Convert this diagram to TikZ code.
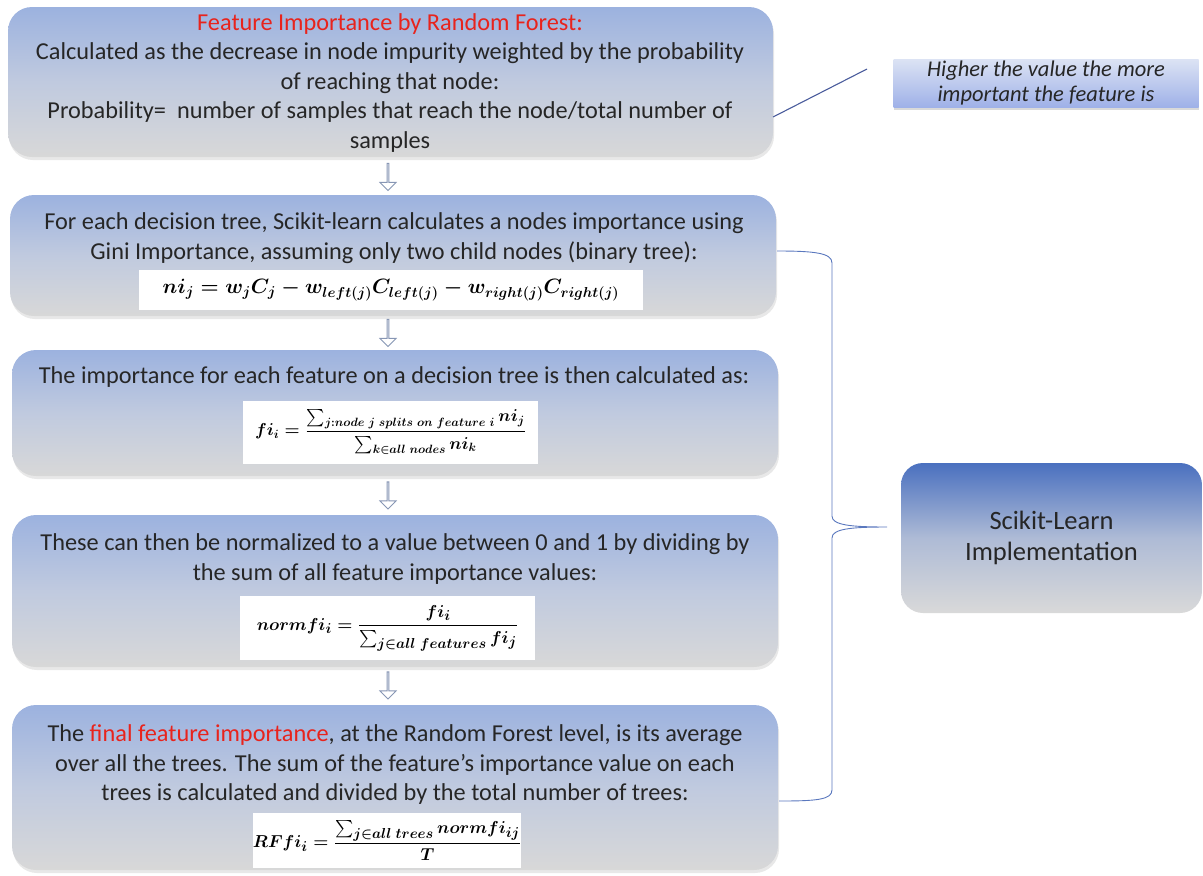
\documentclass[tikz,border=0pt]{standalone}
\usepackage{amsmath}
\usepackage{fontspec}
\setmainfont{Carlito}
\usetikzlibrary{shapes.arrows,shadows,calc}
\definecolor{txt}{HTML}{262626}
\definecolor{redt}{HTML}{E8231C}
\definecolor{boxtop}{HTML}{9CB2DF}
\definecolor{boxmid}{HTML}{C0CADF}
\definecolor{boxbot}{HTML}{D8D8D8}
\definecolor{skTop}{HTML}{4A70BF}
\definecolor{skMid}{HTML}{AEBBD6}
\definecolor{skBot}{HTML}{D9D9D9}
\definecolor{noteTop}{HTML}{DCE3F4}
\definecolor{noteBot}{HTML}{9FB1E8}
\definecolor{linec}{HTML}{4A5C9C}
\definecolor{bracec}{HTML}{5A78BE}
\definecolor{arrc}{HTML}{8796B4}
\tikzset{
  stepbox/.style={rounded corners=24pt, top color=boxtop, bottom color=boxbot, middle color=boxmid,
    draw=none, drop shadow={opacity=0.18, shadow xshift=1pt, shadow yshift=-3pt}},
  bodytext/.style={text=txt, align=center, font=\fontsize{24.3}{29.5}\selectfont, inner sep=0pt},
  eqbox/.style={fill=white, draw=none, inner sep=0pt},
  downarrow/.style={single arrow, shape border rotate=270, minimum height=27pt, minimum width=16pt,
    single arrow head extend=4pt, single arrow head indent=0pt, inner sep=0pt,
    fill=white, draw=arrc, line width=0.9pt},
}
\begin{document}
\begin{tikzpicture}[x=1pt,y=-1pt]
\useasboundingbox (0,0) rectangle (1203,876);

% main boxes
\node[stepbox, minimum width=765pt, minimum height=150pt] (b1) at (390.5,82) {};
\node[stepbox, minimum width=766pt, minimum height=121pt] (b2) at (393,255.5) {};
\node[stepbox, minimum width=766pt, minimum height=126pt] (b3) at (395,413) {};
\node[stepbox, minimum width=766pt, minimum height=152pt] (b4) at (395,591) {};
\node[stepbox, minimum width=766pt, minimum height=165pt] (b5) at (395,787.5) {};

% texts
\node[bodytext] (t1) at (390,83) {\textcolor{redt}{Feature Importance by Random Forest:}\\
Calculated as the decrease in node impurity weighted by the probability\\
of reaching that node:\\
Probability=\ \ number of samples that reach the node/total number of\\
samples};
\node[bodytext] (t2) at (394,238) {For each decision tree, Scikit-learn calculates a nodes importance using\\
Gini Importance, assuming only two child nodes (binary tree):};
\node[eqbox, minimum width=504pt, minimum height=40pt, font=\fontsize{22}{26}\selectfont\boldmath] (e1) at (391,290)
  {$ni_j = w_jC_j - w_{left(j)}C_{left(j)} - w_{right(j)}C_{right(j)}$};

\node[bodytext] (t3) at (394,377) {The importance for each feature on a decision tree is then calculated as:};
\node[eqbox, minimum width=295pt, minimum height=63pt, font=\fontsize{18}{22}\selectfont\boldmath] (e2) at (390.5,432)
  {$fi_i = \dfrac{\sum\nolimits_{j:node\ j\ splits\ on\ feature\ i} ni_j}{\sum\nolimits_{k\in all\ nodes} ni_k}$};

\node[bodytext] (t4) at (395,559) {These can then be normalized to a value between 0 and 1 by dividing by\\
the sum of all feature importance values:};
\node[eqbox, minimum width=295pt, minimum height=64pt, font=\fontsize{19}{23}\selectfont\boldmath] (e3) at (387.5,628)
  {$normfi_i = \dfrac{fi_i}{\sum\nolimits_{j\in all\ features} fi_j}$};

\node[bodytext] (t5) at (395,765) {The \textcolor{redt}{final feature importance}, at the Random Forest level, is its average\\
over all the trees. The sum of the feature's importance value on each\\
trees is calculated and divided by the total number of trees:};
\node[eqbox, minimum width=260pt, minimum height=55pt, font=\fontsize{19}{23}\selectfont\boldmath] (e4) at (387,840.5)
  {$RFfi_i = \dfrac{\sum\nolimits_{j\in all\ trees} normfi_{ij}}{T}$};

% down arrows
\node[downarrow] (a1) at (388,176.5) {};
\node[downarrow] (a2) at (388,332.5) {};
\node[downarrow] (a3) at (388,495) {};
\node[downarrow] (a4) at (388,685) {};

% note box
\node[top color=noteTop, bottom color=noteBot, minimum width=305pt, minimum height=48pt,
  drop shadow={opacity=0.3, shadow xshift=0pt, shadow yshift=-3pt},
  align=center, text=txt, font=\fontsize{22.5}{25}\selectfont\itshape, inner sep=0pt] (note) at (1046,83)
  {Higher the value the more\\ important the feature is};
\coordinate (l1) at (773,117);
\coordinate (l2) at (867,69);
\draw[linec, line width=1.1pt] (l1) -- (l2);

% scikit box
\node[rounded corners=22pt, top color=skTop, bottom color=skBot, middle color=skMid,
  minimum width=301pt, minimum height=150pt, align=center, text=txt,
  font=\fontsize{26.5}{31}\selectfont, inner sep=0pt] (sk) at (1051.5,538)
  {Scikit-Learn\\ Implementation};

% brace
\coordinate (bt) at (777,251);
\coordinate (bb) at (779,801);
\coordinate (tip) at (887,527);
\draw[bracec, line width=0.9pt] (bt) .. controls (815,251) and (832,253) .. (832,263)
  -- (832,516) .. controls (832,525) and (850,527) .. (tip)
  .. controls (850,527) and (832,529) .. (832,538)
  -- (832,790) .. controls (832,800) and (815,801) .. (bb);
\end{tikzpicture}
\end{document}
